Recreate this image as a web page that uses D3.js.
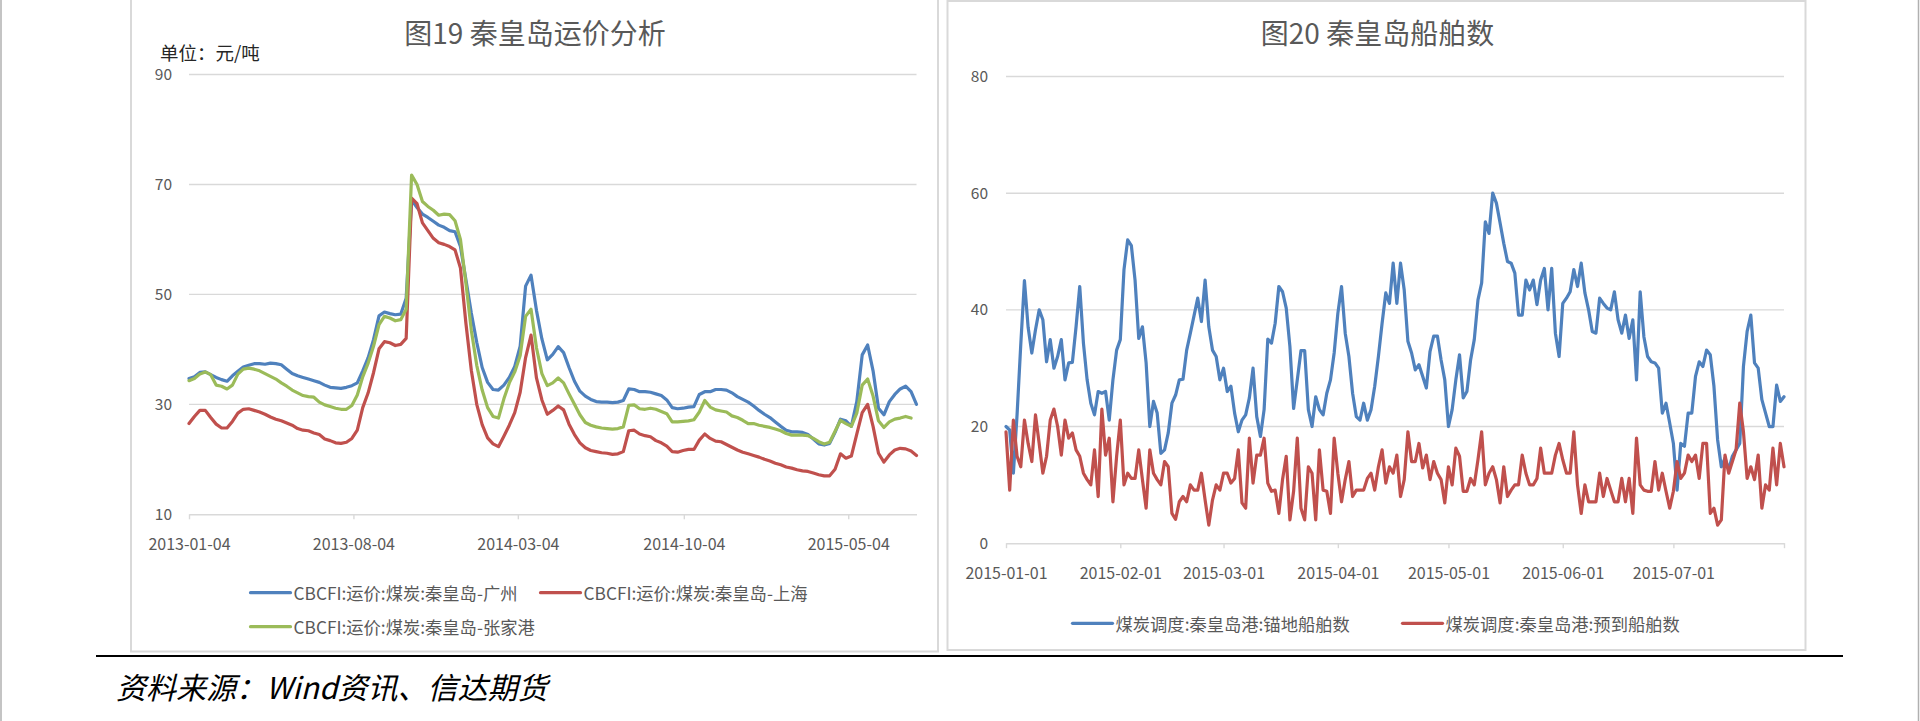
<!DOCTYPE html>
<html><head><meta charset="utf-8">
<script src="https://cdnjs.cloudflare.com/ajax/libs/d3/7.8.5/d3.min.js"></script>
<style>
html,body{margin:0;padding:0;background:#fff;}
svg{display:block;}
text{font-family:"Noto Sans CJK SC","Noto Sans",sans-serif;}
</style></head>
<body>
<svg id="chart" width="1920" height="721"></svg>
<script>
// ---------- Data: chart 19 (weekly, from 2013-01-04) ----------
const rateStart = "2013-01-04";
const rateTicks = ["2013-01-04","2013-08-04","2014-03-04","2014-10-04","2015-05-04"];
const rateYTicks = [10,30,50,70,90];
const rateNames = ["CBCFI:运价:煤炭:秦皇岛-广州","CBCFI:运价:煤炭:秦皇岛-上海","CBCFI:运价:煤炭:秦皇岛-张家港"];
const rateGZ = [
34.7,35.0,35.8,35.9,35.4,34.9,34.5,34.2,35.2,36.0,
36.8,37.1,37.4,37.4,37.3,37.5,37.4,37.2,36.4,35.6,
35.2,34.9,34.6,34.3,34.0,33.5,33.1,33.0,32.9,33.1,
33.4,33.9,36.1,38.5,41.8,46.1,46.8,46.5,46.3,46.4,
49.3,67.2,65.8,64.6,64.0,63.3,62.6,62.2,61.6,61.4,
58.7,52.7,46.6,41.3,36.7,34.0,32.7,32.6,33.5,34.9,
36.9,40.6,51.5,53.5,47.1,41.9,38.1,39.1,40.5,39.4,
36.7,34.2,32.4,31.5,30.9,30.5,30.4,30.4,30.3,30.4,
30.7,32.8,32.7,32.3,32.3,32.2,31.9,31.6,30.8,29.4,
29.2,29.3,29.5,29.6,31.8,32.3,32.3,32.7,32.7,32.6,
32.1,31.4,30.9,30.4,29.7,28.9,28.2,27.6,26.8,26.0,
25.3,25.0,25.0,24.9,24.5,23.7,22.8,22.6,22.9,24.9,
27.3,27.0,26.0,30.5,39.0,40.8,36.1,29.3,28.1,30.5,
31.8,32.8,33.3,32.3,30.0];
const rateSH = [
26.5,27.8,28.9,28.9,27.6,26.4,25.7,25.7,26.9,28.4,
29.1,29.2,28.9,28.6,28.2,27.7,27.3,27.0,26.6,26.2,
25.6,25.3,25.2,24.8,24.5,23.7,23.4,23.0,22.9,23.1,
23.8,25.3,29.4,32.1,35.8,40.1,41.4,41.2,40.7,40.9,
42.0,67.5,66.5,63.0,61.6,60.2,59.4,59.1,58.7,58.1,
54.8,44.8,36.2,30.0,26.3,23.9,22.8,22.3,24.2,26.2,
28.5,32.2,38.5,42.6,34.8,30.8,28.2,28.9,29.7,29.0,
26.4,24.5,23.0,22.1,21.6,21.4,21.2,21.1,20.9,21.0,
21.4,25.2,25.3,24.6,24.3,24.1,23.4,23.0,22.4,21.4,
21.3,21.6,21.8,21.8,23.5,24.6,23.8,23.3,23.2,22.7,
22.2,21.7,21.3,21.0,20.7,20.4,20.0,19.7,19.3,19.0,
18.6,18.4,18.1,17.9,17.8,17.5,17.2,17.0,17.0,18.2,
21.0,20.2,20.6,24.6,28.5,30.0,26.0,21.1,19.5,20.8,
21.7,22.0,21.9,21.5,20.7];
const rateZJG = [
34.3,34.7,35.5,35.9,35.4,33.5,33.3,32.8,33.5,35.5,
36.4,36.6,36.4,36.1,35.6,35.1,34.6,33.9,33.3,32.6,
32.1,31.6,31.4,31.3,30.4,29.9,29.6,29.3,29.1,29.1,
29.8,31.7,35.0,37.5,40.6,44.5,46.0,45.7,45.2,45.4,
47.3,71.7,70.0,66.9,66.0,65.3,64.4,64.6,64.5,63.4,
60.0,52.1,43.5,37.1,32.6,29.4,27.8,27.5,31.0,33.9,
35.9,38.9,46.0,47.3,40.3,35.6,33.4,33.9,34.8,33.9,
31.9,30.0,28.1,26.7,26.2,25.9,25.7,25.6,25.5,25.6,
25.9,29.8,29.9,29.2,29.1,29.3,29.1,28.7,28.3,26.8,
26.8,26.9,27.0,27.2,28.6,30.7,29.5,29.0,28.8,28.6,
27.9,27.6,27.1,26.5,26.5,26.2,26.0,25.8,25.5,25.2,
24.7,24.4,24.4,24.4,24.3,23.8,23.2,22.8,23.1,25.1,
27.1,26.5,26.0,28.4,33.5,34.6,31.5,27.0,25.8,26.8,
27.3,27.5,27.8,27.5,null];

// ---------- Data: chart 20 (daily, from 2015-01-01) ----------
const shipStart = "2015-01-01";
const shipTicks = ["2015-01-01","2015-02-01","2015-03-01","2015-04-01","2015-05-01","2015-06-01","2015-07-01"];
const shipYTicks = [0,20,40,60,80];
const shipNames = ["煤炭调度:秦皇岛港:锚地船舶数","煤炭调度:秦皇岛港:预到船舶数"];
const shipAnchor = [
20,19.4,12,22,34,45,37,32.6,36.6,40,
38.3,31.1,34.9,30,32,34.9,28,30.9,31,37.1,
44,34.3,28,24,22,26,25.7,26,21.1,28,
33.1,34.9,46.9,52,51,45.1,35.1,37.1,30.9,20,
24.3,22.3,15.4,16,18.9,24,25.4,28,28.1,33.1,
36,39,42,38,45.1,37.1,33.1,32,28,30,
26,26.9,22.3,19.1,21.1,22,24.9,30,21.7,18.3,
22.9,35,34.3,37.7,44,43.1,40.3,33.7,23.1,28,
33,33,22.9,20,25.1,22.9,22,25.7,28,32.6,
39.4,44,36,32,25.7,21.7,21.1,24,21.1,22.9,
26.9,32,37.7,42.9,41.1,48,41.1,48,43.4,34.6,
32.6,29.7,30.6,28.6,26.6,32.9,35.5,35.5,31.4,28,
20,22.9,28,32.3,24.9,26,31.4,34.9,41.7,44.6,
55.1,53.1,60,58.3,54.9,51.4,48.3,48,46.3,39.1,
39.1,45.1,43.4,45.1,40.9,45.1,47.1,40,47.1,36,
32,41.1,42,43.1,46.9,44,48,42.9,40,36.3,
36,42,41.1,40.3,40,43.1,38.3,36,39.1,35.1,
38.3,28,43.1,35.4,32,31.1,30.9,30,22.3,24,
20.6,17.1,9.1,17.1,16.6,22.3,22.3,28.6,31.1,30.3,
33.1,32.3,26.9,17.7,13.1,14.6,12.6,14.9,16,17.1,
30.3,36.3,39.1,30.9,30,24.6,22.3,20,20,27.1,
24.3,25.1];
const shipExpected = [
19.1,9.1,21.1,14.9,13.1,21.1,17.1,14,22,17.1,
12,14.9,21.1,23,20,15.1,21.1,18,18.9,16,
14.9,12,10.9,10,16,8,23,15.1,18,7.1,
14.9,21.1,10,12,11.1,11.1,16,10.9,6,16,
12,10.9,10,14,13.1,5.1,4.1,7.1,8,7.1,
10,9.1,9.1,12,7.4,3.1,7.4,10,9.1,12,
12,10.3,11.1,16,6.9,6,18,10.3,15.1,15.1,
18,10.3,8.9,9.1,5.1,10.9,14.9,4,8.9,18,
6,4,13.1,12,4,16,9.1,8.9,5.1,18,
12,7.1,10.9,14,8,9.1,9.1,9.1,11.1,12,
9.1,13.1,16,10.3,13.1,12,15.1,8,10.9,19.1,
14,14,17.1,12.9,15.1,10.9,14,12,10.9,6.9,
13.1,10,16.3,14.9,8.9,8.9,11.1,10,14.3,19.1,
10,12,13.1,10.9,6.9,13.1,8,9.1,10,10,
15.1,12,10,10,11.1,16.3,12,12,12,15.1,
17.1,14.3,12,12,19.1,10,5.1,10,7.1,7.1,
7.1,12,8,11.1,9.1,7.1,7.1,11.1,7.1,11.1,
5.1,18,10,9.1,8.9,8.9,14,9.1,12,8.9,
6,8.9,14,11.1,12,15.1,14,15.1,11.1,17.1,
17.1,5.1,6,3.1,4,15.1,12,14,16,24,
19.1,11.1,13.1,10.9,15.1,6,10,9.1,16.3,10,
17.1,13.1];

const titles = ["图19 秦皇岛运价分析","图20 秦皇岛船舶数"];
const unitLabel = "单位：元/吨";
const sourceLabel = "资料来源：Wind资讯、信达期货";

// ---------- Styles ----------
const C_BLUE = "#4F81BD", C_RED = "#C0504D", C_GREEN = "#9BBB59";
const C_TEXT = "#595959", C_GRID = "#d9d9d9";
const parse = d3.timeParse("%Y-%m-%d");
const fmt = d3.timeFormat("%Y-%m-%d");

const svg = d3.select("#chart");
svg.append("rect").attr("width",1920).attr("height",721).attr("fill","#fff");

// page side lines
svg.append("line").attr("x1",1).attr("x2",1).attr("y1",0).attr("y2",721).attr("stroke","#b0b0b0").attr("stroke-width",1.5);
svg.append("line").attr("x1",1918.5).attr("x2",1918.5).attr("y1",0).attr("y2",721).attr("stroke","#b0b0b0").attr("stroke-width",1.5);

// panel frames
svg.append("rect").attr("x",131).attr("y",-5).attr("width",807).attr("height",656.5)
  .attr("fill","none").attr("stroke",C_GRID).attr("stroke-width",2);
svg.append("rect").attr("x",947.5).attr("y",1).attr("width",858).attr("height",649)
  .attr("fill","none").attr("stroke",C_GRID).attr("stroke-width",2);

// footer rule and source
svg.append("line").attr("x1",96).attr("x2",1843).attr("y1",656).attr("y2",656).attr("stroke","#000").attr("stroke-width",2.2);
svg.append("text").attr("x",116).attr("y",686).attr("dominant-baseline","central")
  .attr("font-size",30).attr("font-style","italic").attr("fill","#000").text(sourceLabel);

function drawChart(cfg){
  const g = svg.append("g");
  const x = d3.scaleTime().domain(cfg.xDomain).range(cfg.xRange);
  const y = d3.scaleLinear().domain(cfg.yDomain).range(cfg.yRange);
  // gridlines
  g.selectAll("line.grid").data(cfg.yTicks.slice(1)).join("line")
    .attr("x1",cfg.xRange[0]).attr("x2",cfg.xRange[1])
    .attr("y1",d=>y(d)).attr("y2",d=>y(d))
    .attr("stroke",C_GRID).attr("stroke-width",1.4);
  // y axis labels
  const ya = g.append("g").attr("transform",`translate(${cfg.xRange[0]},0)`)
    .call(d3.axisLeft(y).tickValues(cfg.yTicks).tickSize(0).tickPadding(cfg.yPad));
  ya.select(".domain").remove();
  ya.selectAll("text").attr("font-size",15.5).attr("fill",C_TEXT).style("font-family",'"Noto Sans CJK SC",sans-serif');
  // x axis
  const tickDates = cfg.xTicks.map(parse).concat(cfg.endTick ? [cfg.xDomain[1]] : []);
  const labelSet = new Set(cfg.xTicks);
  const xa = g.append("g").attr("transform",`translate(0,${cfg.yRange[0]})`)
    .call(d3.axisBottom(x).tickValues(tickDates).tickSize(5).tickSizeOuter(0).tickPadding(19)
      .tickFormat(d=>labelSet.has(fmt(d)) ? fmt(d) : ""));
  xa.select(".domain").attr("stroke",C_GRID).attr("stroke-width",1.6);
  xa.selectAll(".tick line").attr("stroke",C_GRID).attr("stroke-width",1.4);
  xa.selectAll("text").attr("font-size",16).attr("fill",C_TEXT).style("font-family",'"Noto Sans CJK SC",sans-serif');
  // lines
  const line = d3.line().defined(d=>d.v!=null).x(d=>x(d.t)).y(d=>y(d.v));
  cfg.series.forEach(s=>{
    const data = s.values.map((v,i)=>({t:cfg.dates[i], v}));
    g.append("path").datum(data).attr("d",line).attr("fill","none")
      .attr("stroke",s.color).attr("stroke-width",3.2)
      .attr("stroke-linejoin","round").attr("stroke-linecap","round");
  });
  // title
  g.append("text").attr("x",cfg.titleX).attr("y",32).attr("text-anchor","middle")
    .attr("dominant-baseline","central").attr("font-size",28).attr("fill",C_TEXT).text(cfg.title);
  // legend
  cfg.legend.forEach(l=>{
    g.append("line").attr("x1",l.x).attr("x2",l.x+40).attr("y1",l.y).attr("y2",l.y)
      .attr("stroke",l.color).attr("stroke-width",3.2).attr("stroke-linecap","round");
    g.append("text").attr("x",l.x+43).attr("y",l.y).attr("dominant-baseline","central")
      .attr("font-size",17.3).attr("fill",C_TEXT).text(l.name);
  });
}

const rateDates = rateGZ.map((_,i)=>d3.timeDay.offset(parse(rateStart),7*i));
drawChart({
  title: titles[0], titleX: 535,
  xDomain: [rateDates[0], rateDates[rateDates.length-1]], xRange: [189, 916.5],
  yDomain: [10,90], yRange: [514.3, 74.5], yTicks: rateYTicks, yPad: 17,
  xTicks: rateTicks, endTick: false, dates: rateDates,
  series: [{values: rateGZ, color: C_BLUE},{values: rateSH, color: C_RED},{values: rateZJG, color: C_GREEN}],
  legend: [
    {x:250.5, y:592.7, color:C_BLUE, name:rateNames[0]},
    {x:540.5, y:592.7, color:C_RED, name:rateNames[1]},
    {x:250.5, y:626.7, color:C_GREEN, name:rateNames[2]}
  ]
});
svg.append("text").attr("x",160).attr("y",52).attr("dominant-baseline","central")
  .attr("font-size",18.5).attr("fill","#262626").text(unitLabel);

const shipDates = shipAnchor.map((_,i)=>d3.timeDay.offset(parse(shipStart),i));
drawChart({
  title: titles[1], titleX: 1377.5,
  xDomain: [shipDates[0], shipDates[shipDates.length-1]], xRange: [1006, 1784],
  yDomain: [0,80], yRange: [543.2, 76.5], yTicks: shipYTicks, yPad: 18,
  xTicks: shipTicks, endTick: true, dates: shipDates,
  series: [{values: shipAnchor, color: C_BLUE},{values: shipExpected, color: C_RED}],
  legend: [
    {x:1072.5, y:623.3, color:C_BLUE, name:shipNames[0]},
    {x:1402.5, y:623.3, color:C_RED, name:shipNames[1]}
  ]
});
</script>
</body></html>
